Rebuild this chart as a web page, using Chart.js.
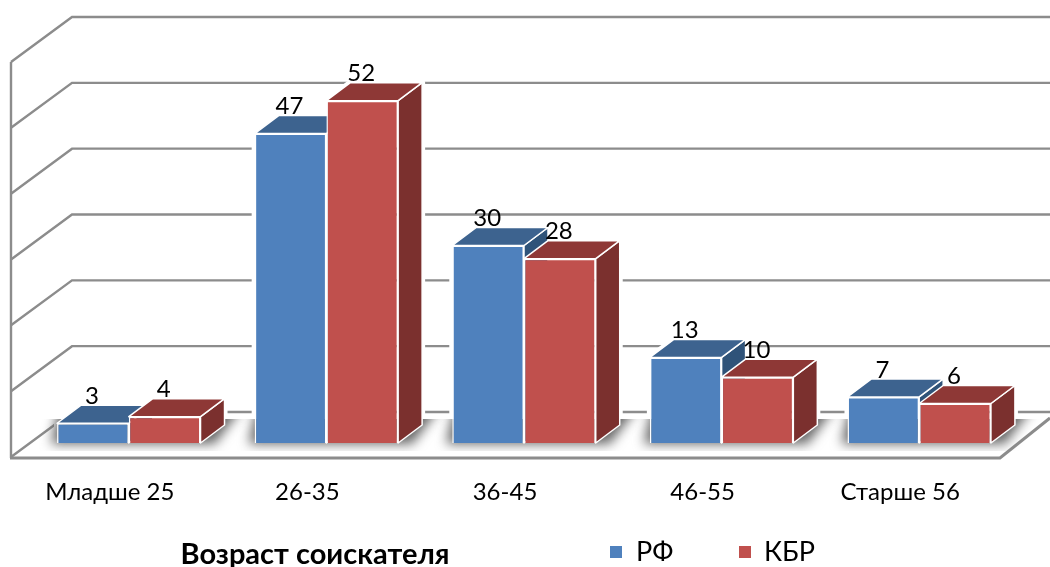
<!DOCTYPE html>
<html>
<head>
<meta charset="utf-8">
<script src="https://cdn.jsdelivr.net/npm/chart.js@4"></script>
<style>
  html, body { margin: 0; background: #fff; }
  canvas { display: block; }
</style>
</head>
<body>
<canvas id="ageChart" width="1050" height="567"></canvas>
<script>
const categories = ["Младше 25", "26-35", "36-45", "46-55", "Старше 56"];
const valuesRF = [3, 47, 30, 13, 7];
const valuesKBR = [4, 52, 28, 10, 6];
const axisTitle = "Возраст соискателя";

const FONT = "Lato, 'Noto Sans', sans-serif";
const GRID = "#8c8c8c";
// bar depth offset, and wall depth offset from the bar base plane
const dx = 24, dy = 18;
const colors = [
  { front: "#4f81bd", top: "#3d638f", side: "#2f5379" },
  { front: "#c0504d", top: "#8e3836", side: "#7b302e" },
];

function poly(ctx, pts, fill, stroke, lw) {
  ctx.beginPath();
  pts.forEach((p, i) => (i ? ctx.lineTo(p[0], p[1]) : ctx.moveTo(p[0], p[1])));
  ctx.closePath();
  if (fill) { ctx.fillStyle = fill; ctx.fill(); }
  if (stroke) { ctx.strokeStyle = stroke; ctx.lineWidth = lw; ctx.lineJoin = "round"; ctx.stroke(); }
}

const box3d = {
  id: "box3d",
  beforeDatasetsDraw(chart) {
    const { ctx, scales: { y } } = chart;
    const base = y.getPixelForValue(0);
    const metas = [chart.getDatasetMeta(0), chart.getDatasetMeta(1)];
    ctx.save();

    // walls: one bent line per tick
    ctx.strokeStyle = GRID;
    ctx.lineWidth = 2.4;
    y.ticks.forEach((t) => {
      const p = y.getPixelForValue(t.value);
      ctx.beginPath();
      ctx.moveTo(11, p + 14);
      ctx.lineTo(72, p - 31);
      ctx.lineTo(1050, p - 31);
      ctx.stroke();
    });
    ctx.beginPath();
    ctx.moveTo(11, y.getPixelForValue(60) + 14);
    ctx.lineTo(11, base + 15);
    ctx.stroke();

    // floor edge
    ctx.lineWidth = 3;
    ctx.beginPath();
    ctx.moveTo(10, base + 15);
    ctx.lineTo(1000, base + 15);
    ctx.lineTo(1050, base - 25);
    ctx.stroke();

    // white halo, so the grid stops short of the bars
    categories.forEach((c, i) => {
      metas.forEach((m) => {
        const el = m.data[i];
        const l = el.x - el.width / 2, r = el.x + el.width / 2;
        poly(ctx, [[l, el.y], [l + dx, el.y - dy], [r + dx, el.y - dy], [r + dx, base - dy], [r, base], [l, base]], null, "#fff", 6);
      });
    });

    // blurred shadow on the floor, cut off at the top
    ctx.save();
    ctx.beginPath();
    ctx.rect(0, base - 24, 1050, 32);
    ctx.clip();
    ctx.filter = "blur(6px)";
    categories.forEach((c, i) => {
      const a = metas[0].data[i], b = metas[1].data[i];
      const x0 = a.x - a.width / 2, x1 = b.x + b.width / 2;
      poly(ctx, [[x0 - 6, base + 1], [x1 + 14, base + 1], [x1 + dx + 18, base - 36], [x0 + 2, base - 36]], "#666");
    });
    ctx.restore();

    // top and side faces, series order
    categories.forEach((c, i) => {
      metas.forEach((m, s) => {
        const el = m.data[i];
        const l = el.x - el.width / 2, r = el.x + el.width / 2;
        poly(ctx, [[r, el.y], [r + dx, el.y - dy], [r + dx, base - dy], [r, base]], colors[s].side, "#fff", 1.5);
        poly(ctx, [[l, el.y], [l + dx, el.y - dy], [r + dx, el.y - dy], [r, el.y]], colors[s].top, "#fff", 1.5);
      });
    });
    ctx.restore();
  },
  afterDatasetsDraw(chart) {
    const { ctx } = chart;
    ctx.save();
    ctx.fillStyle = "#000";
    ctx.textAlign = "center";
    ctx.textBaseline = "middle";
    ctx.font = "24px " + FONT;
    chart.data.datasets.forEach((ds, s) => {
      chart.getDatasetMeta(s).data.forEach((el, i) => {
        ctx.fillText(ds.data[i], el.x - 1, el.y - dy - 9);
      });
    });

    // axis title and legend sit in the bottom strip
    ctx.font = "bold 29px " + FONT;
    ctx.fillText(axisTitle, 315, 555);
    ctx.textAlign = "left";
    ctx.font = "27px " + FONT;
    [[610, 636], [739, 764]].forEach((pos, s) => {
      ctx.fillStyle = colors[s].front;
      ctx.fillRect(pos[0], 546, 12, 12);
      ctx.fillStyle = "#000";
      ctx.fillText(chart.data.datasets[s].label, pos[1], 552);
    });
    ctx.restore();
  },
};

new Chart(document.getElementById("ageChart"), {
  type: "bar",
  data: {
    labels: categories,
    datasets: [
      { label: "РФ", data: valuesRF, backgroundColor: colors[0].front },
      { label: "КБР", data: valuesKBR, backgroundColor: colors[1].front },
    ],
  },
  options: {
    responsive: false,
    animation: false,
    layout: { padding: { left: 30, right: 32, top: 48 } },
    datasets: {
      bar: { categoryPercentage: 0.726, barPercentage: 1, borderColor: "#fff", borderWidth: 1.5 },
    },
    plugins: { legend: { display: false }, tooltip: { enabled: false } },
    scales: {
      x: {
        grid: { display: false },
        border: { display: false },
        afterFit(scale) { scale.height = 124; },
        ticks: {
          color: "#000",
          font: { family: FONT, size: 24 },
          maxRotation: 0,
          padding: 27,
          labelOffset: -19,
        },
      },
      y: {
        display: false,
        min: 0,
        max: 60,
        ticks: { stepSize: 10 },
      },
    },
  },
  plugins: [box3d],
});
</script>
</body>
</html>
